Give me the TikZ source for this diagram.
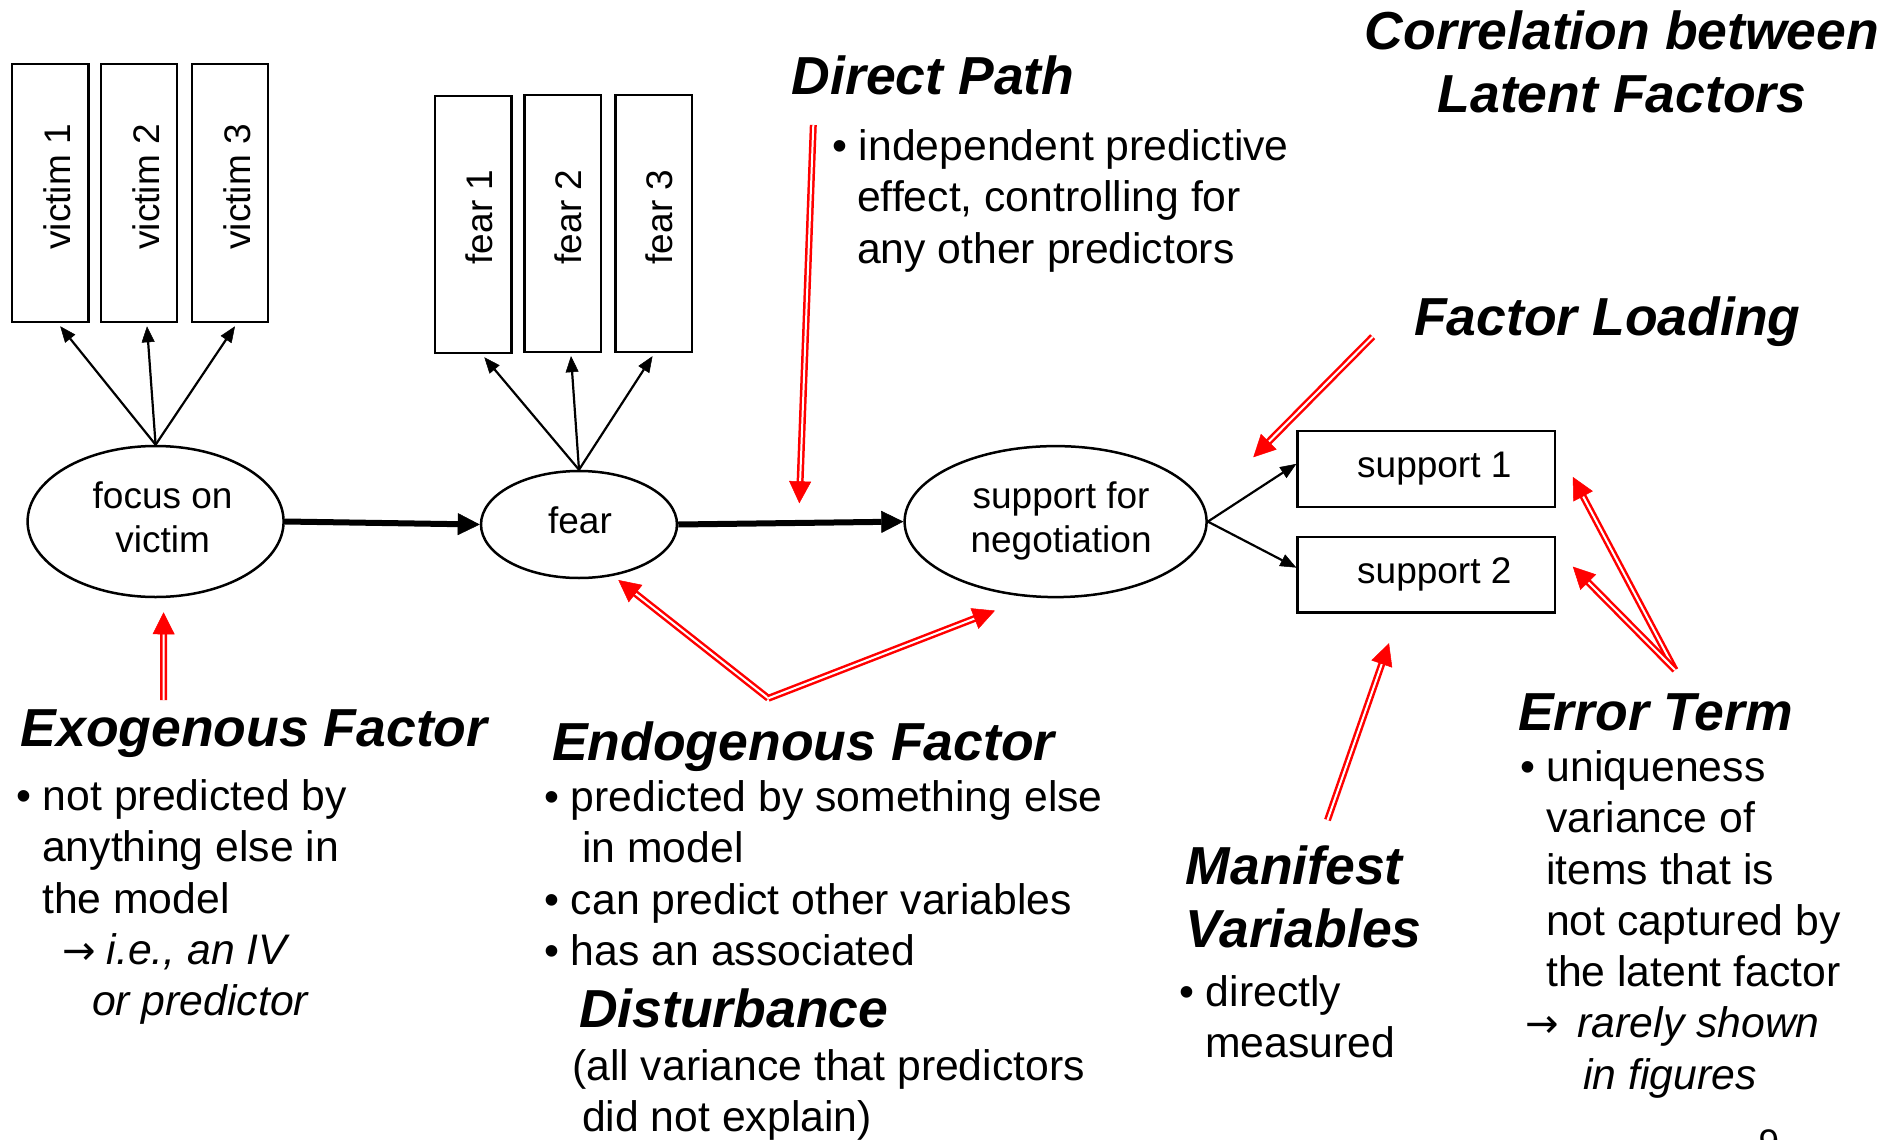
\documentclass[tikz,border=0pt]{standalone}
\usepackage{fontspec}
\setmainfont{Liberation Sans}
\newfontfamily\arrowfont{DejaVu Sans}
\usetikzlibrary{shapes.geometric,arrows.meta,calc}

% font sizes (1 unit = 1pt)
\newcommand\lblfont{\fontsize{37}{44}\selectfont}
\newcommand\txtfont{\fontsize{42.7}{51.3}\selectfont}
\newcommand\hdfont{\bfseries\itshape\fontsize{53.5}{63}\selectfont}
\newcommand\rarr{{\arrowfont\fontsize{40}{51}\selectfont →}}

% red double annotation arrow: double shaft plus a solid head
\newcommand\redarrow[2]{%
  \draw[redline] (#1) -- (#2);
  \draw[redtip] ($(#2)!20pt!(#1)$) -- (#2);}

\begin{document}
\begin{tikzpicture}[x=1pt,y=-1pt,
  every node/.style={inner sep=0pt},
  latent/.style={ellipse, draw, line width=2.5pt, font=\lblfont, align=center},
  item/.style={rectangle, draw, line width=2.5pt, font=\lblfont, align=center},
  vlabel/.style={font=\lblfont, rotate=90, anchor=base},
  loading/.style={line width=2.2pt, -{Triangle[length=16pt,width=13pt,line width=0.5pt]}},
  causal/.style={line width=6pt, -{Triangle[length=22pt,width=22pt,line width=0.5pt]}},
  redline/.style={draw=red, line width=2.5pt, double=white, double distance=2pt, shorten >=18pt},
  redtip/.style={draw=red, fill=red, line width=1pt, -{Triangle[length=22pt,width=22pt,line width=0.5pt]}},
  body/.style={font=\txtfont, align=left, anchor=north west},
  hd/.style={font=\hdfont, anchor=base west}]

\fill[white] (0,0) rectangle (1898,1140);
\useasboundingbox (0,0) rectangle (1898,1140);

% latent factors
\node[latent, minimum width=256pt, minimum height=151pt] (focus) at (155.6,521.5)
  {\strut\hspace*{14pt}focus on\\\strut\hspace*{14pt}victim};
\node[latent, minimum width=196pt, minimum height=107pt] (fear) at (579,524.5) {\strut\hspace*{2pt}fear};
\node[latent, minimum width=302pt, minimum height=151pt] (support) at (1055.6,521.6)
  {\strut\hspace*{11pt}support for\\\strut\hspace*{11pt}negotiation};

% indicator boxes
\node[item, minimum width=76.4pt, minimum height=258pt] (v1) at (50.2,193) {};
\node[item, minimum width=76.4pt, minimum height=258pt] (v2) at (139,193) {};
\node[item, minimum width=76.4pt, minimum height=258pt] (v3) at (230,193) {};
\node[item, minimum width=76.5pt, minimum height=257pt] (f1) at (473.3,224.5) {};
\node[item, minimum width=76.5pt, minimum height=257pt] (f2) at (562.5,223.4) {};
\node[item, minimum width=76.5pt, minimum height=257pt] (f3) at (653.5,223.4) {};
\node[vlabel] (v1l) at (70.9,187) {victim 1};
\node[vlabel] (v2l) at (159.7,187) {victim 2};
\node[vlabel] (v3l) at (250.7,187) {victim 3};
\node[vlabel] (f1l) at (492.1,217) {fear 1};
\node[vlabel] (f2l) at (581.3,217) {fear 2};
\node[vlabel] (f3l) at (672.3,217) {fear 3};

% support indicators
\node[item, minimum width=257.5pt, minimum height=76.3pt] (s1) at (1426.3,468.9) {\strut\hspace*{16pt}support 1};
\node[item, minimum width=257.5pt, minimum height=75.5pt] (s2) at (1426.3,574.6) {\strut\hspace*{16pt}support 2};

% factor loadings
\draw[loading] (focus.north) -- ($(v1.south)+(10,3)$);
\draw[loading] (focus.north) -- ($(v2.south)+(8,3)$);
\draw[loading] (focus.north) -- ($(v3.south)+(5,3)$);
\draw[loading] (fear.north) -- ($(f1.south)+(11,3)$);
\draw[loading] (fear.north) -- ($(f2.south)+(8.5,3)$);
\draw[loading] (fear.north) -- ($(f3.south)+(-1,3)$);
\draw[loading] (support.east) -- ($(s1.west)+(0,-5)$);
\draw[loading] (support.east) -- ($(s2.west)+(0,-7)$);

% structural paths
\draw[causal] (focus.east) -- (fear.west);
\draw[causal] (fear.east) -- (support.west);

% headings
\node[hd] (dpTitle) at (791.7,95) {Direct Path};
\node[hd, anchor=north, align=center] (corr) at (1622,5.3) {\strut Correlation between\\Latent Factors};
\node[hd] (flTitle) at (1414,335) {Factor Loading};
\node[hd] (exoTitle) at (20.5,746) {Exogenous Factor};
\node[hd] (endoTitle) at (552,760) {Endogenous Factor};
\node[hd, anchor=north west, align=left] (mvTitle) at (1185.5,839.9) {\strut Manifest\\Variables};
\node[hd] (etTitle) at (1518,730) {Error Term};

% explanations
\node[body] (dpText) at (832,124.3) {\strut• independent predictive\\\hspace*{25pt}effect, controlling for\\\hspace*{25pt}any other predictors};
\node[body] (exoText) at (16,774.3) {\strut• not predicted by\\\hspace*{26pt}anything else in\\\hspace*{26pt}the model\\\hspace*{46pt}\rarr\hspace{11pt}\textit{i.e., an IV}\\\hspace*{76pt}\textit{or predictor}};
\node[body] (endoText) at (544,775.3) {\strut• predicted by something else\\\hspace*{38pt}in model\\• can predict other variables\\• has an associated};
\node[hd] (endoDist) at (579,1027) {Disturbance};
\node[body] (endoNote) at (572,1044.3) {\strut(all variance that predictors\\\hspace*{10pt}did not explain)};
\node[body] (mvText) at (1179,970.3) {\strut• directly\\\hspace*{26pt}measured};
\node[body] (etText) at (1520,745.3) {\strut• uniqueness\\\hspace*{26pt}variance of\\\hspace*{26pt}items that is\\\hspace*{26pt}not captured by\\\hspace*{26pt}the latent factor\\\hspace*{5pt}\rarr\hspace{19pt}\textit{rarely shown}\\\hspace*{63pt}\textit{in figures}};
\node[font=\lblfont, anchor=north] (pagenum) at (1769,1129) {9};

% annotation arrows
\coordinate (exoTail) at (163.5,700);
\coordinate (endoV) at (768.3,698.3);
\coordinate (dpTail) at (813.3,125);
\coordinate (dpTip) at (799.3,503.3);
\coordinate (flTail) at (1372.7,336.7);
\coordinate (flTip) at (1253.3,457.3);
\coordinate (mvTail) at (1327.5,820);
\coordinate (etV) at (1675,670);

\redarrow{exoTail}{$(focus.south)+(8,14)$}
\redarrow{endoV}{$(fear.center)+(39.3,55.5)$}
\redarrow{endoV}{$(support.center)+(-60.6,89)$}
\redarrow{dpTail}{dpTip}
\redarrow{flTail}{flTip}
\redarrow{mvTail}{$(s2.south)+(-37.3,29.6)$}
\redarrow{etV}{$(s1.east)+(16.5,8)$}
\redarrow{etV}{$(s2.east)+(16.5,-8)$}
\end{tikzpicture}
\end{document}
